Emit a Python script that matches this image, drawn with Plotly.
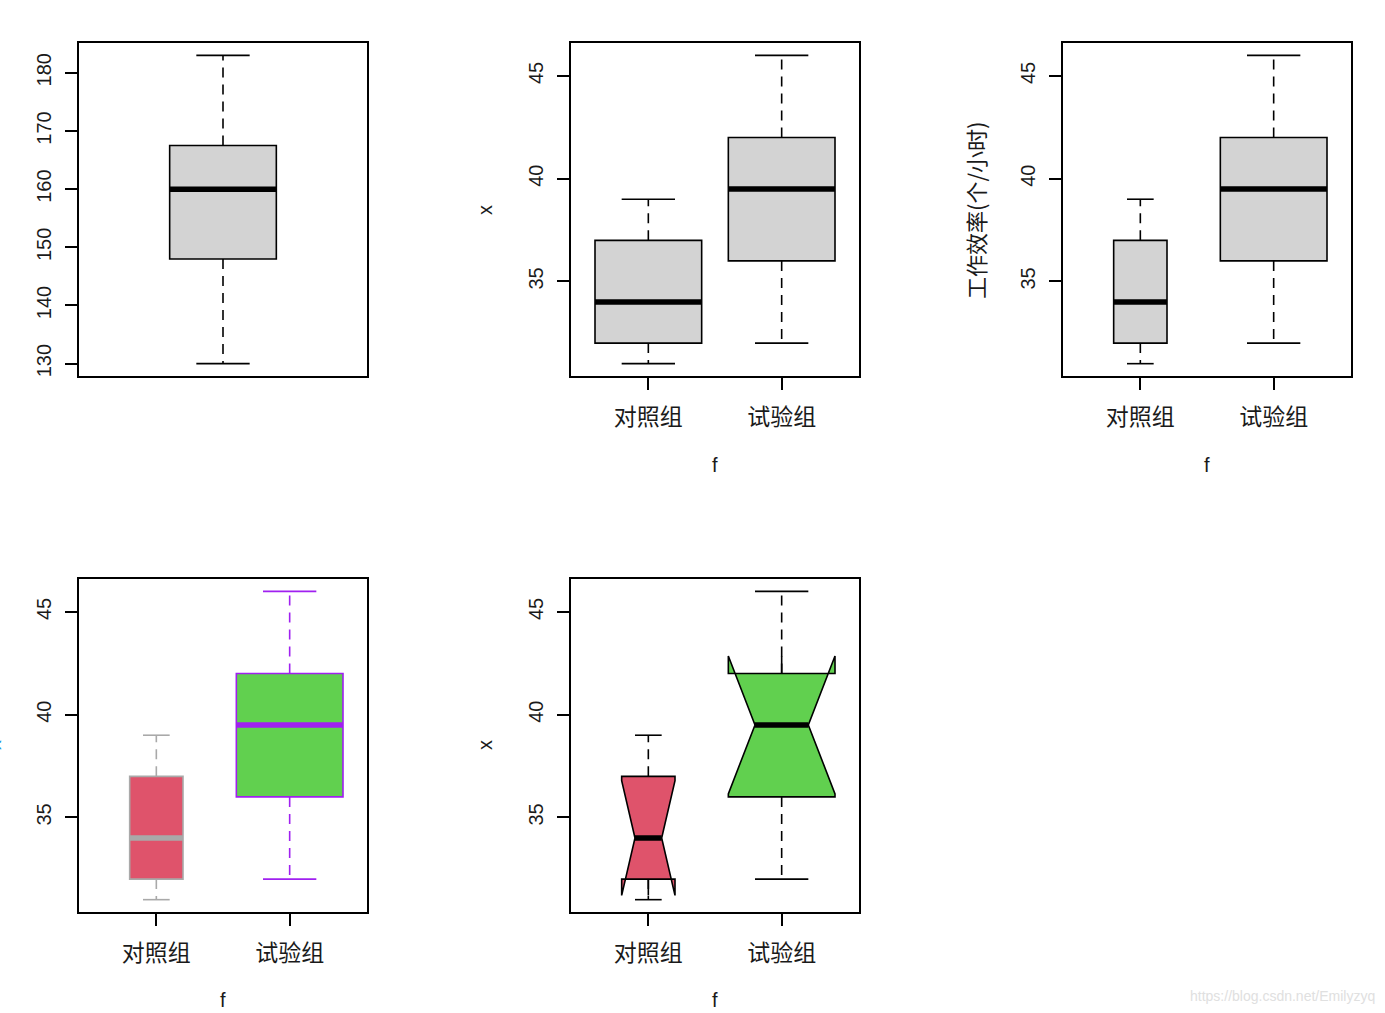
import plotly.graph_objects as go

W, H = 1385, 1013

# ---------------- data ----------------
categories = ["对照组", "试验组"]
positions = [1, 2]

# Panel 1: single variable
height_min = [130]
height_q1 = [148]
height_median = [160]
height_q3 = [167.5]
height_max = [183]

# Work efficiency by group (panels 2-5)
eff_min = [31, 32]
eff_q1 = [32, 36]
eff_median = [34, 39.5]
eff_q3 = [37, 42]
eff_max = [39, 46]
eff_n = [8, 8]

y_ticks_height = [130, 140, 150, 160, 170, 180]
y_ticks_eff = [35, 40, 45]

# ---------------- styles ----------------
LIGHTGRAY = "#D3D3D3"
RED = "#DF536B"
GREEN = "#61D04F"
PURPLE = "#A020F0"
DARKGRAY = "#A9A9A9"
BLACK = "#000000"
TXT = "#1a1a1a"
NUM_FONT = "Liberation Sans, Arial, sans-serif"
CJK_FONT = "Noto Sans CJK SC, sans-serif"

# plot frames in pixels: (left, right, top, bottom)
frames = {
    1: (79, 367, 43, 376),
    2: (571, 859, 43, 376),
    3: (1063, 1351, 43, 376),
    4: (79, 367, 579, 912),
    5: (571, 859, 579, 912),
}

fig = go.Figure()


def axis_names(k):
    s = "" if k == 1 else str(k)
    return "x" + s, "y" + s


def add_panel(k, pos, lo, q1, med, q3, hi, widths, fills, borders, med_colors,
              notched=False, n=None):
    xa, ya = axis_names(k)
    # boxes
    for i in range(len(pos)):
        kw = {}
        if notched:
            kw["notchspan"] = [1.58 * (q3[i] - q1[i]) / n[i] ** 0.5]
            kw["notchwidth"] = 0.25
        fig.add_trace(go.Box(
            x=[pos[i]], q1=[q1[i]], median=[med[i]], q3=[q3[i]],
            lowerfence=[q1[i]], upperfence=[q3[i]],
            width=widths[i], fillcolor=fills[i],
            line=dict(color=borders[i], width=1.6),
            whiskerwidth=0, notched=notched, boxpoints=False,
            xaxis=xa, yaxis=ya, showlegend=False, hoverinfo="skip", **kw))
    # dashed whiskers, staples, thick medians
    for i in range(len(pos)):
        p = pos[i]
        fig.add_trace(go.Scatter(
            x=[p, p, None, p, p], y=[q3[i], hi[i], None, q1[i], lo[i]],
            mode="lines", line=dict(color=borders[i], width=1.6, dash="10px,7px"),
            xaxis=xa, yaxis=ya, showlegend=False, hoverinfo="skip"))
        cw = widths[i] * 0.25
        fig.add_trace(go.Scatter(
            x=[p - cw, p + cw, None, p - cw, p + cw],
            y=[hi[i], hi[i], None, lo[i], lo[i]],
            mode="lines", line=dict(color=borders[i], width=1.6),
            xaxis=xa, yaxis=ya, showlegend=False, hoverinfo="skip"))
        mw = widths[i] * (0.25 if notched else 0.5)
        fig.add_trace(go.Scatter(
            x=[p - mw, p + mw], y=[med[i], med[i]],
            mode="lines", line=dict(color=med_colors[i], width=5.5),
            xaxis=xa, yaxis=ya, showlegend=False, hoverinfo="skip"))


add_panel(1, [1], height_min, height_q1, height_median, height_q3, height_max,
          [0.4], [LIGHTGRAY], [BLACK], [BLACK])
add_panel(2, positions, eff_min, eff_q1, eff_median, eff_q3, eff_max,
          [0.8, 0.8], [LIGHTGRAY, LIGHTGRAY], [BLACK, BLACK], [BLACK, BLACK])
add_panel(3, positions, eff_min, eff_q1, eff_median, eff_q3, eff_max,
          [0.4, 0.8], [LIGHTGRAY, LIGHTGRAY], [BLACK, BLACK], [BLACK, BLACK])
add_panel(4, positions, eff_min, eff_q1, eff_median, eff_q3, eff_max,
          [0.4, 0.8], [RED, GREEN], [DARKGRAY, PURPLE], [DARKGRAY, PURPLE])
add_panel(5, positions, eff_min, eff_q1, eff_median, eff_q3, eff_max,
          [0.4, 0.8], [RED, GREEN], [BLACK, BLACK], [BLACK, BLACK],
          notched=True, n=eff_n)


def r_range(vals):
    lo, hi = min(vals), max(vals)
    ext = (hi - lo) * 0.04
    return [lo - ext, hi + ext]


layout = dict(
    width=W, height=H, margin=dict(l=0, r=0, t=0, b=0),
    paper_bgcolor="white", plot_bgcolor="white", showlegend=False,
    boxmode="overlay",
)

for k, (l, r, t, b) in frames.items():
    xa, ya = axis_names(k)
    xkey = "xaxis" if k == 1 else "xaxis%d" % k
    ykey = "yaxis" if k == 1 else "yaxis%d" % k
    if k == 1:
        xr = [1 - 0.54, 1 + 0.54]
        yr = r_range(height_min + height_max)
        yt = y_ticks_height
    else:
        xr = [0.5 - 0.08, 2.5 + 0.08]
        yr = r_range(eff_min + eff_max)
        yt = y_ticks_eff
    xax = dict(
        domain=[l / W, r / W], range=xr, anchor=ya,
        showline=True, mirror=True, linecolor=BLACK, linewidth=1.6,
        showgrid=False, zeroline=False, fixedrange=True,
    )
    if k == 1:
        xax.update(showticklabels=False, ticks="")
    else:
        xax.update(tickmode="array", tickvals=positions, ticktext=categories,
                   ticks="outside", ticklen=12, tickwidth=1.6, tickcolor=BLACK,
                   tickfont=dict(family=CJK_FONT, size=23, color=TXT),
                   ticklabelstandoff=8)
    yax = dict(
        domain=[1 - b / H, 1 - t / H], range=yr, anchor=xa,
        showline=True, mirror=True, linecolor=BLACK, linewidth=1.6,
        showgrid=False, zeroline=False, fixedrange=True,
        tickmode="array", tickvals=yt, ticktext=[str(v) for v in yt],
        ticks="outside", ticklen=12, tickwidth=1.6, tickcolor=BLACK,
        tickangle=-90, tickfont=dict(family=NUM_FONT, size=20, color=TXT),
        ticklabelstandoff=6,
    )
    layout[xkey] = xax
    layout[ykey] = yax


def ann(text, px, py, size=20, angle=0, color=TXT, family=NUM_FONT, xanchor="center"):
    return dict(text=text, x=px / W, y=1 - py / H, xref="paper", yref="paper",
                showarrow=False, textangle=angle, xanchor=xanchor, yanchor="middle",
                font=dict(family=family, size=size, color=color))


annotations = [
    ann("x", 485, 210, angle=-90),
    ann("f", 715, 465),
    ann("工作效率(个/小时)", 975, 210, size=22, angle=-90, family=CJK_FONT),
    ann("f", 1207, 465),
    ann("x", -6, 745, angle=-90, color="#2297E6"),
    ann("f", 223, 1000),
    ann("x", 485, 745, angle=-90),
    ann("f", 715, 1000),
    ann("https://blog.csdn.net/Emilyzyq", 1377, 996, size=14, color="#E0E0E0",
        xanchor="right"),
]
layout["annotations"] = annotations

fig.update_layout(**layout)

fig.write_html("out.html", config={"displayModeBar": False},
               post_script="document.body.style.margin='0';document.body.style.overflow='hidden';")
